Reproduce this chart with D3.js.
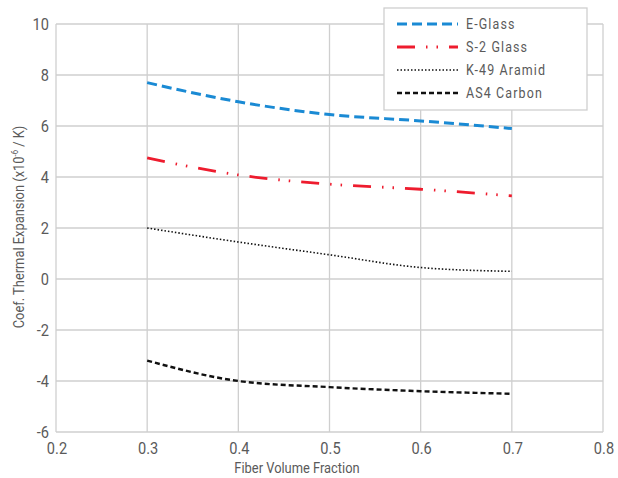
<!DOCTYPE html>
<html>
<head>
<meta charset="utf-8">
<script src="https://cdn.jsdelivr.net/npm/d3@7"></script>
<style>
  body { margin: 0; background: #fff; }
  text { font-family: "Roboto", sans-serif; fill: #5a5a5a; }
</style>
</head>
<body>
<svg id="chart" width="618" height="478"></svg>
<script>
// fiber volume fraction vs CTE
const fractions = [0.3, 0.4, 0.5, 0.6, 0.7];
const eGlass   = [7.7, 6.95, 6.45, 6.2, 5.9];
const s2Glass  = [4.75, 4.08, 3.72, 3.52, 3.26];
const k49      = [2.0, 1.45, 0.95, 0.45, 0.3];
const as4      = [-3.2, -4.0, -4.24, -4.4, -4.5];
const xTicks = [0.2, 0.3, 0.4, 0.5, 0.6, 0.7, 0.8];
const yTicks = [-6, -4, -2, 0, 2, 4, 6, 8, 10];

const series = [
  { name: 'E-Glass',    vals: eGlass, color: '#1a8ad4', width: 3,   dash: '10,5' },
  { name: 'S-2 Glass',  vals: s2Glass, color: '#ee1c2e', width: 2.8, dash: '18,11,1.5,9,1.5,11' },
  { name: 'K-49 Aramid', vals: k49,   color: '#111',    width: 1.6, dash: '1.5,2' },
  { name: 'AS4 Carbon', vals: as4,    color: '#111',    width: 2.4, dash: '5,3' }
];

const svg = d3.select('#chart');
const pLeft = 56, pRight = 603, pTop = 24, pBottom = 432;
const squeeze = 0.86; // condensed look

const x = d3.scaleLinear().domain([0.2, 0.8]).range([pLeft, pRight]);
const y = d3.scaleLinear().domain([-6, 10]).range([pBottom, pTop]);

// grid
svg.append('g').selectAll('line').data(xTicks).enter().append('line')
  .attr('x1', d => x(d)).attr('x2', d => x(d))
  .attr('y1', pTop).attr('y2', pBottom)
  .attr('stroke', '#cfcfcf').attr('stroke-width', 1.3);
svg.append('g').selectAll('line').data(yTicks).enter().append('line')
  .attr('x1', pLeft).attr('x2', pRight)
  .attr('y1', d => y(d)).attr('y2', d => y(d))
  .attr('stroke', '#cfcfcf').attr('stroke-width', 1.3);

// tick labels
svg.append('g').selectAll('text').data(yTicks).enter().append('text')
  .attr('transform', d => `translate(${pLeft - 7},${y(d) + 6.3}) scale(${squeeze},1)`)
  .attr('text-anchor', 'end').attr('font-size', 17)
  .text(d => d);
svg.append('g').selectAll('text').data(xTicks).enter().append('text')
  .attr('transform', d => `translate(${x(d) + 1},${454}) scale(${squeeze},1)`)
  .attr('text-anchor', 'middle').attr('font-size', 17)
  .text(d => d);

// axis titles
svg.append('text')
  .attr('transform', `translate(297,473) scale(${squeeze},1)`)
  .attr('text-anchor', 'middle').attr('font-size', 15)
  .text('Fiber Volume Fraction');
const yt = svg.append('text')
  .attr('transform', `translate(24,227) rotate(-90) scale(${squeeze},1)`)
  .attr('text-anchor', 'middle').attr('font-size', 15);
yt.append('tspan').text('Coef. Thermal Expansion (x10');
yt.append('tspan').attr('font-size', 9).attr('dy', -6).text('-6');
yt.append('tspan').attr('dy', 6).text(' / K)');

// lines
const line = d3.line()
  .x((d, i) => x(fractions[i]))
  .y(d => y(d))
  .curve(d3.curveMonotoneX);

svg.append('g').selectAll('path').data(series).enter().append('path')
  .attr('d', d => line(d.vals))
  .attr('fill', 'none')
  .attr('stroke', d => d.color)
  .attr('stroke-width', d => d.width)
  .attr('stroke-dasharray', d => d.dash);

// legend
const lg = svg.append('g');
lg.append('rect').attr('x', 384).attr('y', 8).attr('width', 203).attr('height', 102)
  .attr('fill', '#fff').attr('stroke', '#cfcfcf').attr('stroke-width', 1.3);
const row = lg.selectAll('g.row').data(series).enter().append('g')
  .attr('transform', (d, i) => `translate(0,${24 + i * 23})`);
row.append('line')
  .attr('x1', 397).attr('x2', 458).attr('y1', 0).attr('y2', 0)
  .attr('stroke', d => d.color)
  .attr('stroke-width', d => d.width)
  .attr('stroke-dasharray', d => d.dash);
row.append('text')
  .attr('transform', `translate(466,5) scale(${squeeze},1)`)
  .attr('font-size', 14.5).attr('letter-spacing', 1.3)
  .text(d => d.name);
</script>
</body>
</html>
